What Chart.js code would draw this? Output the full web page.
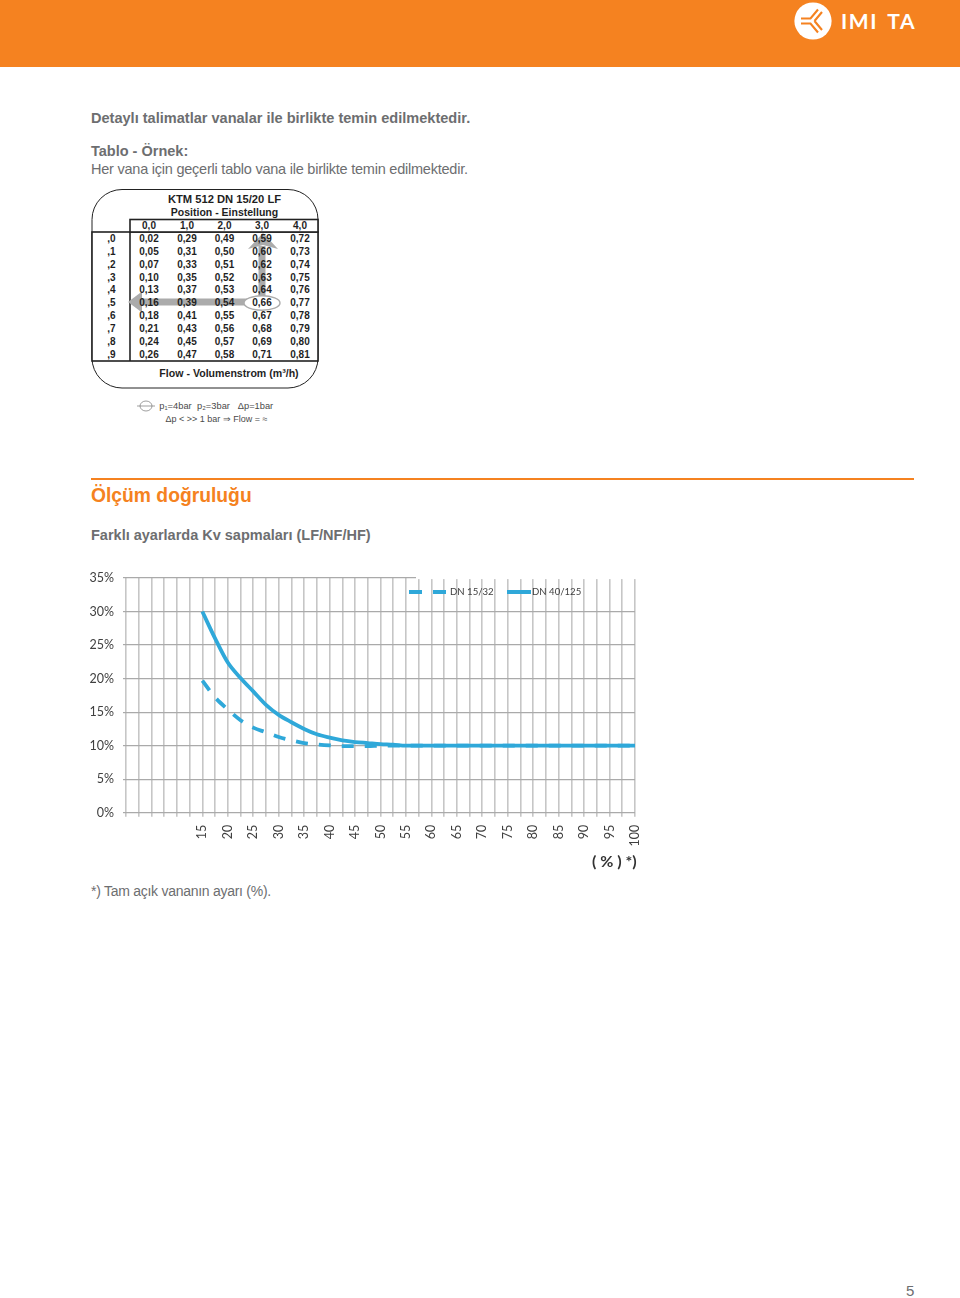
<!DOCTYPE html>
<html lang="tr">
<head>
<meta charset="utf-8">
<title>Ölçüm doğruluğu</title>
<script src="https://cdn.jsdelivr.net/npm/chart.js@4"></script>
<style>
  html, body { margin: 0; padding: 0; background: #fff; }
  #page { position: relative; width: 960px; height: 1298px; overflow: hidden; font-family: "Liberation Sans", sans-serif; color: #6d6e70; }
  #page > div, #page > svg, #page > canvas { position: absolute; }
  .t { white-space: nowrap; line-height: 1; }
  .b { font-weight: bold; }
  #band { left: 0; top: 0; width: 960px; height: 67px; background: #f58220; }
  #brand { left: 841px; top: 8px; font: bold 21px Lato, sans-serif; color: #fff; letter-spacing: 1.6px; word-spacing: 3px; white-space: nowrap; }
  #rule { left: 91px; top: 478px; width: 823px; height: 2px; background: #f58220; }
  #holder { left: 80px; top: 560px; width: 578px; height: 300px; }
  .lg { font: 9.6px Lato, sans-serif; color: #404040; white-space: nowrap; line-height: 1; }
  .sw { height: 4px; background: #2fa8d9; }
</style>
</head>
<body>
<div id="page">
  <div id="band"></div>
  <svg style="left:794px;top:2px" width="38" height="38" viewBox="0 0 38 38">
    <circle cx="19" cy="19" r="18.6" fill="#fff"/>
    <g fill="none" stroke="#f58220" stroke-width="2.1">
      <path d="M7 16.5H16.5L24 7.5M7 21.5H16.5L24 30.5"/>
      <path d="M20.5 19L28 10M20.5 19L28 28"/>
    </g>
  </svg>
  <div id="brand">IMI TA</div>

  <div class="t b" style="left:91px;top:111px;font-size:14.55px;">Detaylı talimatlar vanalar ile birlikte temin edilmektedir.</div>
  <div class="t b" style="left:91px;top:144px;font-size:14.5px;">Tablo - Örnek:</div>
  <div class="t" style="left:91px;top:162px;font-size:14.5px;letter-spacing:-0.23px;">Her vana için geçerli tablo vana ile birlikte temin edilmektedir.</div>

  <svg id="tbl" style="left:85px;top:185px" width="240" height="245" viewBox="85 185 240 245"></svg>

  <div id="rule"></div>
  <div class="t b" style="left:91px;top:486px;font-size:19.3px;color:#f58220;">Ölçüm doğruluğu</div>
  <div class="t b" style="left:91px;top:528px;font-size:14.5px;">Farklı ayarlarda Kv sapmaları (LF/NF/HF)</div>

  <div id="holder"><canvas id="kvChart" width="578" height="300"></canvas></div>
  <div id="legend"></div>

  <div class="t" style="left:592px;top:851px;font:bold 16px Lato,sans-serif;color:#333;">( % ) *)</div>
  <div class="t" style="left:91px;top:884px;font-size:14px;letter-spacing:-0.27px;">*) Tam açık vananın ayarı (%).</div>
  <div class="t" style="left:906px;top:1283px;font-size:15px;">5</div>
</div>

<script>
;(function (window, document, Chart) {
  // chart values
  var seriesNames = ['DN 15/32', 'DN 40/125']
  var xLabels = ['', '', '', '', '', '', '15', '', '20', '', '25', '', '30', '', '35', '', '40', '', '45', '', '50', '',
    '55', '', '60', '', '65', '', '70', '', '75', '', '80', '', '85', '', '90', '', '95', '', '100']
  var yTicks = [0, 5, 10, 15, 20, 25, 30, 35]
  var dn15 = [null, null, null, null, null, null, 19.7, 17.2, 15.4, 13.8, 12.7, 12.0, 11.3, 10.8, 10.4, 10.2, 10.05, 9.95, 9.95, 9.95,
    10, 10, 10, 10, 10, 10, 10, 10, 10, 10, 10, 10, 10, 10, 10, 10, 10, 10, 10, 10, 10]
  var dn40 = [null, null, null, null, null, null, 30, 26, 22.4, 20.1, 18.1, 16.1, 14.6, 13.5, 12.5, 11.7, 11.2, 10.8, 10.55, 10.4,
    10.25, 10.15, 10, 10, 10, 10, 10, 10, 10, 10, 10, 10, 10, 10, 10, 10, 10, 10, 10, 10, 10]

  // printed table values
  var positions = ['0,0', '1,0', '2,0', '3,0', '4,0']
  var rowLabels = [',0', ',1', ',2', ',3', ',4', ',5', ',6', ',7', ',8', ',9']
  var flow0 = ['0,02', '0,05', '0,07', '0,10', '0,13', '0,16', '0,18', '0,21', '0,24', '0,26']
  var flow1 = ['0,29', '0,31', '0,33', '0,35', '0,37', '0,39', '0,41', '0,43', '0,45', '0,47']
  var flow2 = ['0,49', '0,50', '0,51', '0,52', '0,53', '0,54', '0,55', '0,56', '0,57', '0,58']
  var flow3 = ['0,59', '0,60', '0,62', '0,63', '0,64', '0,66', '0,67', '0,68', '0,69', '0,71']
  var flow4 = ['0,72', '0,73', '0,74', '0,75', '0,76', '0,77', '0,78', '0,79', '0,80', '0,81']

  var blue = '#2fa8d9'
  var NS = 'http://www.w3.org/2000/svg'
  var tbl = document.getElementById('tbl')

  function el (name, attrs, text) {
    var n = document.createElementNS(NS, name)
    for (var k in attrs) n.setAttribute(k, attrs[k])
    if (text) n.textContent = text
    tbl.appendChild(n)
    return n
  }

  function label (x, y, text, size, weight, fill) {
    el('text', { x: x, y: y, 'text-anchor': 'middle', 'font-size': size, 'font-weight': weight || 'bold', fill: fill || '#1f1f1f',
      'font-family': 'Liberation Sans' }, text)
  }

  // the setting table above the chart
  function drawTable () {
    var colX = [149, 187, 224.5, 262, 300]
    var cols = [flow0, flow1, flow2, flow3, flow4]

    el('rect', { x: 92, y: 189.5, width: 226, height: 198.5, rx: 30, fill: 'none', stroke: '#222', 'stroke-width': 1 })
    el('rect', { x: 92, y: 232, width: 226, height: 129, fill: '#fff', stroke: '#222', 'stroke-width': 1.6 })
    el('rect', { x: 130, y: 219.5, width: 188, height: 12.5, fill: '#fff', stroke: '#222', 'stroke-width': 1.6 })
    el('line', { x1: 130, y1: 232, x2: 130, y2: 361, stroke: '#222', 'stroke-width': 1.6 })

    // arrows and marked value
    el('path', { d: 'M262 302H140M262 302V246', fill: 'none', stroke: '#ababab', 'stroke-width': 7 })
    el('path', { d: 'M128 302L142 291.5V312.5Z', fill: '#ababab' })
    el('path', { d: 'M263 233L278 249L263 245L248 249Z', fill: '#ababab' })
    el('ellipse', { cx: 262, cy: 303, rx: 18, ry: 7.2, fill: '#fff', stroke: '#ababab', 'stroke-width': 1.4 })

    label(224.5, 203, 'KTM 512 DN 15/20 LF', 11.2)
    label(224.5, 215.5, 'Position - Einstellung', 10.5)
    label(229, 377, 'Flow - Volumenstrom (m³/h)', 10.6)

    for (var c = 0; c < colX.length; c++) {
      label(colX[c], 228.5, positions[c], 10)
      for (var r = 0; r < rowLabels.length; r++) {
        label(colX[c], 242 + r * 12.87, cols[c][r], 10)
      }
    }
    for (var r2 = 0; r2 < rowLabels.length; r2++) {
      label(111.5, 242 + r2 * 12.87, rowLabels[r2], 10)
    }

    // valve note
    el('ellipse', { cx: 146, cy: 406, rx: 6, ry: 5, fill: 'none', stroke: '#777', 'stroke-width': 0.7 })
    el('path', { d: 'M137 406H155', fill: 'none', stroke: '#777', 'stroke-width': 0.7 })
    label(175.5, 409, 'p₁=4bar', 9.3, 'normal', '#4a4a4a')
    label(213.5, 409, 'p₂=3bar', 9.3, 'normal', '#4a4a4a')
    label(255.5, 409, 'Δp=1bar', 9.3, 'normal', '#4a4a4a')
    label(216.5, 422, 'Δp < >> 1 bar ⇒ Flow = ≈', 9, 'normal', '#4a4a4a')
  }

  // legend sits on top of the plot
  function addLegendItem (left, top, width, cls, text) {
    var d = document.createElement('div')
    d.className = cls
    d.style.position = 'absolute'
    d.style.left = left + 'px'
    d.style.top = top + 'px'
    if (width) d.style.width = width + 'px'
    if (text) d.textContent = text
    document.getElementById('legend').appendChild(d)
  }

  function drawLegend () {
    addLegendItem(409, 590, 12.5, 'sw')
    addLegendItem(433, 590, 12.5, 'sw')
    addLegendItem(450, 586.5, 0, 'lg', seriesNames[0])
    addLegendItem(507, 590, 24, 'sw')
    addLegendItem(532, 586.5, 0, 'lg', seriesNames[1])
  }

  // top gridline stops short where the legend box sat in the source
  var cutTopLine = {
    id: 'cutTopLine',
    beforeDatasetsDraw: function (chart) {
      var y = chart.scales.y.getPixelForValue(35)
      var ctx = chart.ctx
      ctx.save()
      ctx.fillStyle = '#fff'
      ctx.fillRect(336, y - 1.5, 242, 2.6)
      ctx.restore()
    }
  }

  drawTable()
  drawLegend()

  new Chart(document.getElementById('kvChart').getContext('2d'), {
    type: 'line',
    data: {
      labels: xLabels,
      datasets: [
        { label: seriesNames[0], data: dn15, borderColor: blue, backgroundColor: blue, borderWidth: 3.8, borderDash: [12, 11], cubicInterpolationMode: 'monotone', pointRadius: 0, fill: false },
        { label: seriesNames[1], data: dn40, borderColor: blue, backgroundColor: blue, borderWidth: 3.8, cubicInterpolationMode: 'monotone', pointRadius: 0, fill: false }
      ]
    },
    options: {
      responsive: false,
      animation: false,
      layout: { padding: { top: 18, right: 16.4, left: 0, bottom: 0 } },
      plugins: { legend: { display: false }, tooltip: { enabled: false } },
      scales: {
        x: {
          offset: false,
          afterFit: function (scale) { scale.height = 47.2 },
          grid: { color: '#c6c6c6', lineWidth: 1.6, tickLength: 4, drawTicks: true },
          border: { display: false },
          ticks: { autoSkip: false, minRotation: 90, maxRotation: 90, padding: 8, color: '#404040', font: { family: 'Lato', size: 12.5 } }
        },
        y: {
          min: yTicks[0],
          max: yTicks[yTicks.length - 1],
          afterFit: function (scale) { scale.width = 46 },
          afterBuildTicks: function (scale) { scale.ticks = yTicks.map(function (v) { return { value: v } }) },
          grid: { color: '#aaaaaa', lineWidth: 1.2, tickLength: 3 },
          border: { display: false },
          ticks: {
            padding: 9,
            color: '#404040',
            font: { family: 'Lato', size: 12.5 },
            callback: function (v) { return v + '%' }
          }
        }
      }
    },
    plugins: [cutTopLine]
  })
})(window, document, Chart);
</script>
</body>
</html>
